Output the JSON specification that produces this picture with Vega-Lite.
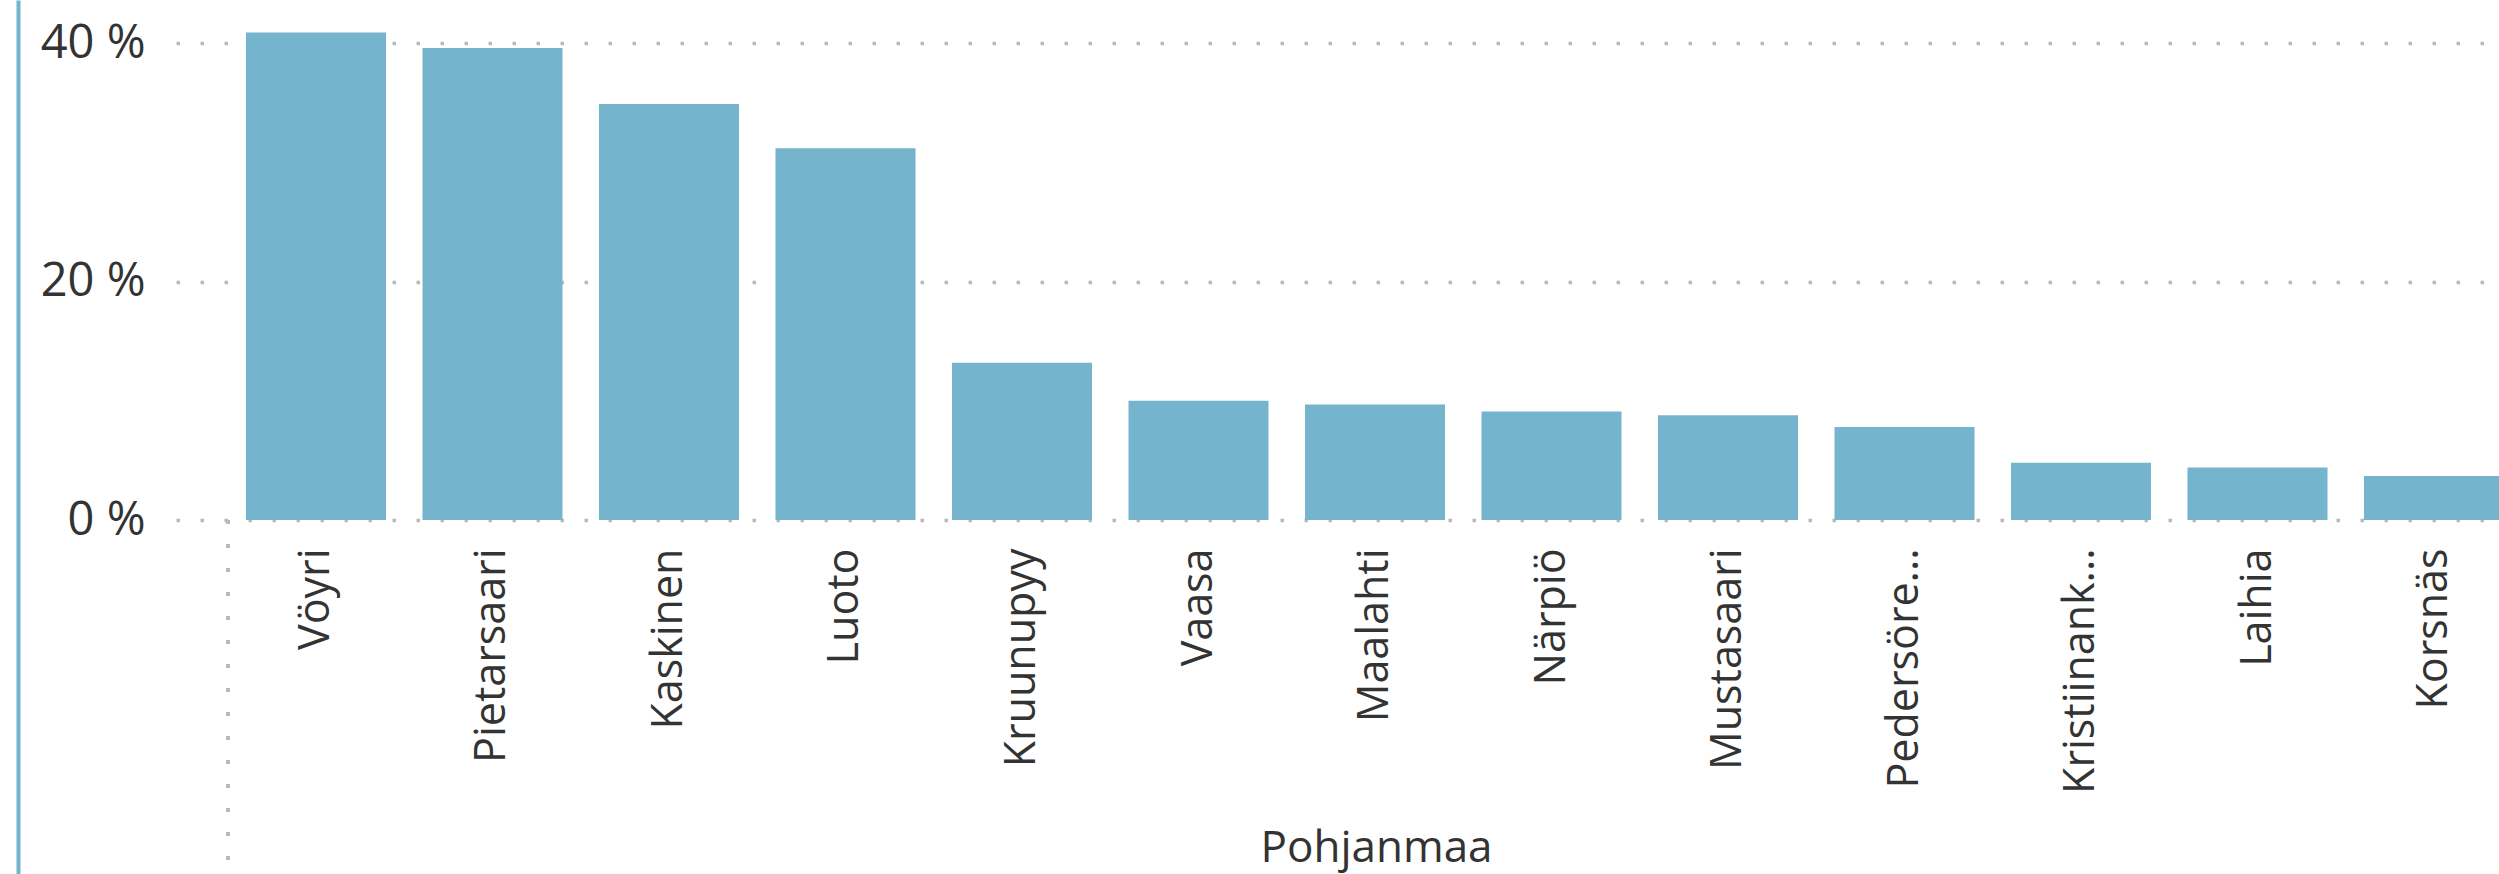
{
  "$schema": "https://vega.github.io/schema/vega-lite/v6.json",
  "width": 2323,
  "height": 874,
  "autosize": {"type": "none"},
  "padding": {"left": 176, "top": 0, "right": 0, "bottom": 0},
  "background": "white",
  "config": {
    "view": {"stroke": null},
    "font": "Open Sans",
    "style": {"guide-label": {"ellipsis": "..."}}
  },
  "data": {
    "values": [
      {"Kunta": "Vöyri", "Osuus": 40.9},
      {"Kunta": "Pietarsaari", "Osuus": 39.6},
      {"Kunta": "Kaskinen", "Osuus": 34.9},
      {"Kunta": "Luoto", "Osuus": 31.2},
      {"Kunta": "Kruunupyy", "Osuus": 13.2},
      {"Kunta": "Vaasa", "Osuus": 10.0},
      {"Kunta": "Maalahti", "Osuus": 9.7},
      {"Kunta": "Närpiö", "Osuus": 9.1},
      {"Kunta": "Mustasaari", "Osuus": 8.8},
      {"Kunta": "Pedersören kunta", "Osuus": 7.8},
      {"Kunta": "Kristiinankaupunki", "Osuus": 4.8},
      {"Kunta": "Laihia", "Osuus": 4.4},
      {"Kunta": "Korsnäs", "Osuus": 3.7}
    ]
  },
  "layer": [
    {
      "mark": {"type": "bar", "color": "#74B4CD"},
      "encoding": {
        "x": {
          "field": "Kunta",
          "type": "nominal",
          "sort": null,
          "scale": {"range": [0, 2398], "paddingInner": 0.2068, "paddingOuter": 0.3966},
          "axis": {
            "title": "Pohjanmaa",
            "offset": -354,
            "domain": false,
            "ticks": false,
            "grid": false,
            "labelAngle": -90,
            "labelFontSize": 43,
            "labelColor": "#333333",
            "labelPadding": 28,
            "labelLimit": 258,
            "titleFontSize": 44,
            "titleFontWeight": "normal",
            "titleColor": "#333333",
            "titleX": 1200,
            "titleY": 341,
            "titleBaseline": "alphabetic",
            "titleAlign": "center"
          }
        },
        "y": {
          "field": "Osuus",
          "type": "quantitative",
          "scale": {"domain": [-29.7, 43.63], "nice": false, "zero": false},
          "axis": {
            "title": null,
            "values": [0, 20, 40],
            "offset": 158,
            "domain": true,
            "domainColor": "#74B4CD",
            "domainWidth": 4,
            "ticks": false,
            "labelPadding": -127,
            "labelExpr": "datum.value + ' %'",
            "labelFontSize": 47,
            "labelColor": "#333333",
            "grid": true,
            "gridColor": "#b9b9b9",
            "gridWidth": 3.5,
            "gridDash": [3.5, 20.5]
          }
        },
        "y2": {"datum": 0}
      }
    },
    {
      "mark": {"type": "rule", "color": "#b9b9b9", "strokeWidth": 3.5, "strokeDash": [3.5, 20.5]},
      "encoding": {
        "x": {"datum": "Vöyri", "type": "nominal", "bandPosition": -0.13},
        "y": {"datum": 0, "type": "quantitative"},
        "y2": {"datum": -29.7}
      }
    }
  ]
}
